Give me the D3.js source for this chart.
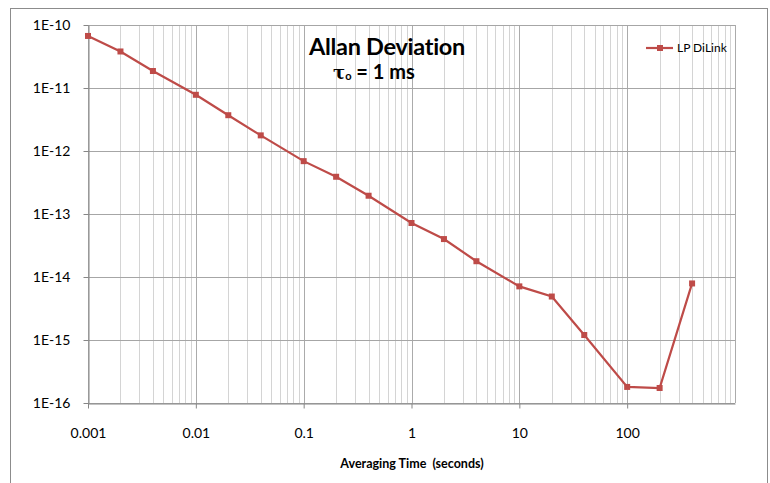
<!DOCTYPE html>
<html>
<head>
<meta charset="utf-8">
<script src="https://cdn.jsdelivr.net/npm/d3@7"></script>
<style>
body { margin: 0; background: #fff; }
text { font-family: Lato, "Open Sans", sans-serif; }
</style>
</head>
<body>
<div id="chart"></div>
<script>
// averaging time (s) and Allan deviation
var tau = [0.001, 0.002, 0.004, 0.01, 0.02, 0.04, 0.1, 0.2, 0.4, 1, 2, 4, 10, 20, 40, 100, 200, 400];
var adev = [6.7e-11, 3.8e-11, 1.86e-11, 7.8e-12, 3.7e-12, 1.77e-12, 6.9e-13, 3.9e-13, 1.95e-13,
            7.2e-14, 4.0e-14, 1.78e-14, 7.1e-15, 4.9e-15, 1.2e-15, 1.8e-16, 1.73e-16, 7.9e-15];
var xTicks = [0.001, 0.01, 0.1, 1, 10, 100];
var xTickLabels = ["0.001", "0.01", "0.1", "1", "10", "100"];
var yTicks = [1e-10, 1e-11, 1e-12, 1e-13, 1e-14, 1e-15, 1e-16];
var yTickLabels = ["1E-10", "1E-11", "1E-12", "1E-13", "1E-14", "1E-15", "1E-16"];
var seriesName = "LP DiLink";

var W = 770, H = 483;
var plotL = 88, plotR = 735, plotT = 25, plotB = 403;
var red = "#be4b48";

var svg = d3.select("#chart").append("svg")
    .attr("width", W).attr("height", H);

// chart area frame
svg.append("rect")
    .attr("x", 10.5).attr("y", 8.5)
    .attr("width", 757).attr("height", 490)
    .attr("fill", "none").attr("stroke", "#8c8c8c").attr("stroke-width", 1);

var x = d3.scaleLog().domain([0.001, 1000]).range([plotL, plotR]);
var y = d3.scaleLog().domain([1e-16, 1e-10]).range([plotB, plotT]);

// minor vertical gridlines
var minor = [];
for (var e = -3; e < 3; e++) {
    for (var m = 2; m <= 9; m++) minor.push(m * Math.pow(10, e));
}
svg.append("g").selectAll("line").data(minor).enter().append("line")
    .attr("x1", function(d) { return Math.round(x(d)) + 0.5; })
    .attr("x2", function(d) { return Math.round(x(d)) + 0.5; })
    .attr("y1", plotT).attr("y2", plotB)
    .attr("stroke", "#d4d4d4").attr("stroke-width", 1);

// major vertical gridlines
svg.append("g").selectAll("line").data(xTicks.concat([1000])).enter().append("line")
    .attr("x1", function(d) { return Math.round(x(d)) + 0.5; })
    .attr("x2", function(d) { return Math.round(x(d)) + 0.5; })
    .attr("y1", plotT).attr("y2", plotB)
    .attr("stroke", "#ababab").attr("stroke-width", 1);

// horizontal gridlines
svg.append("g").selectAll("line").data(yTicks).enter().append("line")
    .attr("x1", plotL).attr("x2", plotR)
    .attr("y1", function(d) { return Math.round(y(d)) + 0.5; })
    .attr("y2", function(d) { return Math.round(y(d)) + 0.5; })
    .attr("stroke", "#a6a6a6").attr("stroke-width", 1);

// axes
var xAxis = d3.axisBottom(x).tickValues(xTicks)
    .tickFormat(function(d, i) { return xTickLabels[i]; })
    .tickSizeInner(5).tickSizeOuter(0).tickPadding(20);
var gx = svg.append("g").attr("transform", "translate(0," + (plotB + 0.5) + ")").call(xAxis);
gx.select(".domain").attr("stroke", "#868686");
gx.selectAll(".tick line").attr("stroke", "#868686");
gx.selectAll("text").attr("font-size", 14).attr("fill", "#000")
    .style("font-family", "Lato, sans-serif");

var yAxis = d3.axisLeft(y).tickValues(yTicks)
    .tickFormat(function(d, i) { return yTickLabels[i]; })
    .tickSizeInner(5).tickSizeOuter(0).tickPadding(13);
var gy = svg.append("g").attr("transform", "translate(" + (plotL + 0.5) + ",0)").call(yAxis);
gy.select(".domain").attr("stroke", "#868686");
gy.selectAll(".tick line").attr("stroke", "#868686");
gy.selectAll("text").attr("font-size", 14).attr("fill", "#000")
    .style("font-family", "Lato, sans-serif");

// series
var pts = tau.map(function(t, i) { return [t, adev[i]]; });
svg.append("path").datum(pts)
    .attr("fill", "none").attr("stroke", red).attr("stroke-width", 2.2)
    .attr("d", d3.line().x(function(d) { return x(d[0]); }).y(function(d) { return y(d[1]); }));
svg.append("g").selectAll("rect").data(pts).enter().append("rect")
    .attr("x", function(d) { return x(d[0]) - 3; })
    .attr("y", function(d) { return y(d[1]) - 3; })
    .attr("width", 6).attr("height", 6)
    .attr("fill", red);

// title
svg.append("text").attr("x", 387).attr("y", 55)
    .attr("text-anchor", "middle").attr("font-size", 23.5).attr("font-weight", "bold")
    .attr("letter-spacing", -0.3)
    .text("Allan Deviation");
var sub = svg.append("text").attr("x", 333).attr("y", 79)
    .attr("font-size", 20).attr("font-weight", "bold");
sub.append("tspan").style("font-family", "'DejaVu Serif', serif").attr("font-size", 18).text("τ");
sub.append("tspan").attr("font-size", 11).attr("dy", 1).text("o");
sub.append("tspan").attr("dy", -1).text(" = 1 ms");

// legend
svg.append("line").attr("x1", 646).attr("x2", 673).attr("y1", 48).attr("y2", 48)
    .attr("stroke", red).attr("stroke-width", 2.2);
svg.append("rect").attr("x", 657).attr("y", 45).attr("width", 6).attr("height", 6).attr("fill", red);
svg.append("text").attr("x", 677).attr("y", 52).attr("font-size", 12)
    .text(seriesName);

// x axis title
svg.append("text").attr("x", 412).attr("y", 468)
    .attr("text-anchor", "middle").attr("font-size", 12.5).attr("font-weight", "bold")
    .attr("xml:space", "preserve")
    .text("Averaging Time  (seconds)");
</script>
</body>
</html>
